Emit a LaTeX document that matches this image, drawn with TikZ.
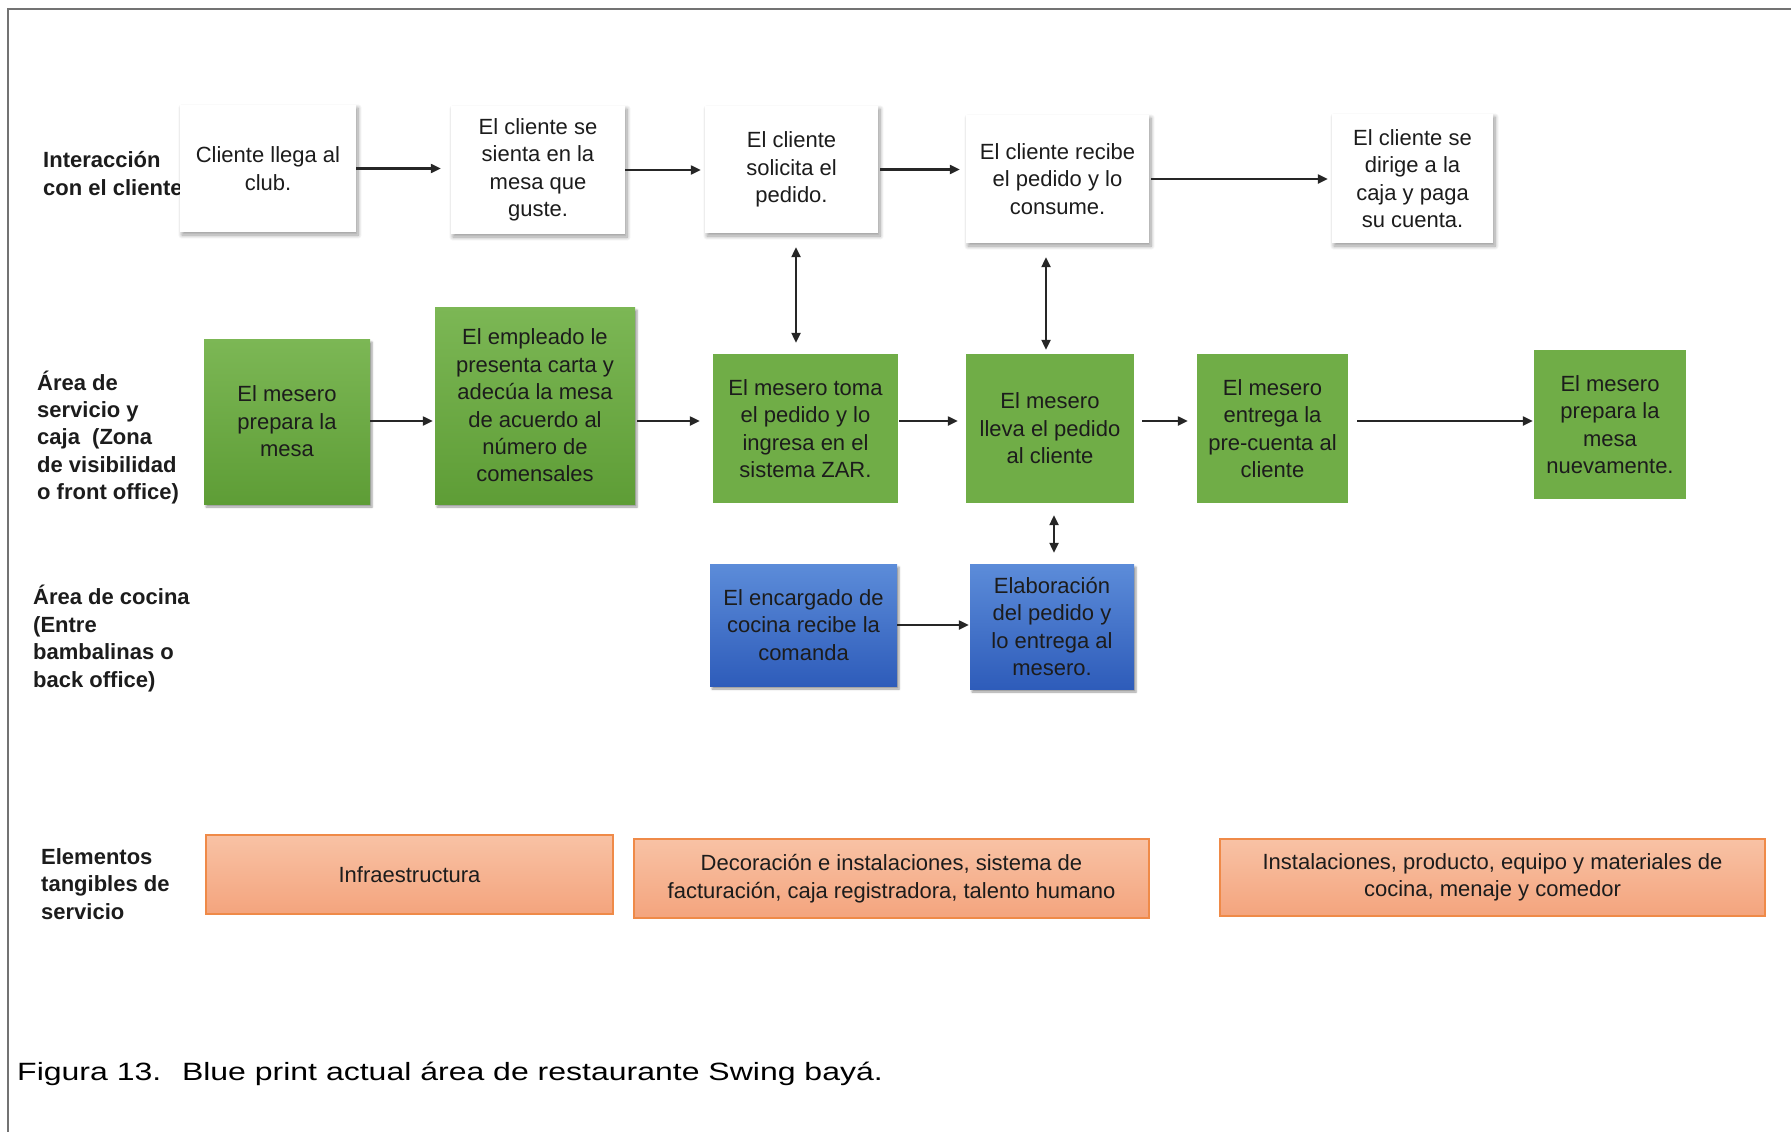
\documentclass[tikz,border=0pt]{standalone}
\usepackage{fontspec}
\setmainfont{Liberation Sans}
\newfontfamily\capfont[FakeStretch=1.28]{Liberation Sans}
\usetikzlibrary{arrows.meta,shadows.blur}
\definecolor{gtop}{HTML}{7CB755}
\definecolor{gbot}{HTML}{5E9D36}
\definecolor{gflat}{HTML}{70AD47}
\definecolor{btop}{HTML}{5C8CD9}
\definecolor{bbot}{HTML}{2E5CBA}
\definecolor{otop}{HTML}{F8C2A5}
\definecolor{obot}{HTML}{F4A47D}
\definecolor{oline}{HTML}{EF8A48}
\definecolor{txt}{HTML}{1C1C1C}
\tikzset{
  boxbase/.style={rectangle, align=center, inner sep=1pt, text=txt},
  wbox/.style={boxbase, fill=white, blur shadow={shadow xshift=2pt, shadow yshift=-3pt, shadow blur radius=4pt, shadow blur steps=8, shadow opacity=40}},
  gbox/.style={boxbase, fill=gflat},
  ggbox/.style={boxbase, top color=gtop, bottom color=gbot, blur shadow={shadow xshift=2pt, shadow yshift=-3pt, shadow blur radius=2pt, shadow opacity=40}},
  bbox/.style={boxbase, top color=btop, bottom color=bbot, blur shadow={shadow xshift=2pt, shadow yshift=-3pt, shadow blur radius=2pt, shadow opacity=40}},
  obox/.style={boxbase, top color=otop, bottom color=obot, draw=oline, line width=1.5pt},
  lane/.style={align=left, inner sep=0pt, anchor=west, font=\fontsize{22}{27.4}\selectfont\bfseries, text=txt},
  arr/.style={-{Triangle[length=10pt,width=9pt]}, line width=2.2pt, draw=black!85},
  dbl/.style={{Triangle[length=10pt,width=9pt]}-{Triangle[length=10pt,width=9pt]}, line width=2.2pt, draw=black!85},
  frameline/.style={draw=black!55, line width=1.5pt}
}
\begin{document}
\begin{tikzpicture}[x=1pt, y=-1pt, font=\fontsize{22}{27.4}\selectfont]
\useasboundingbox (0,0) rectangle (1791,1132);
\draw[frameline] (8,1132) -- (8,9) -- (1791,9);

% lane labels
\node[lane] (L1) at (43,173.6) {Interacción\\con el cliente};
\node[lane] (L2) at (37,437.5) {Área de\\servicio y\\caja~ (Zona\\de visibilidad\\o front office)};
\node[lane] (L3) at (33,638.5) {Área de cocina\\(Entre\\bambalinas o\\back office)};
\node[lane] (L4) at (41,884) {Elementos\\tangibles de\\servicio};

% customer row
\node[wbox, minimum width=176pt, minimum height=127pt] (W1) at (268,168.5) {Cliente llega al\\club.};
\node[wbox, minimum width=174pt, minimum height=128pt] (W2) at (538,170) {El cliente se\\sienta en la\\mesa que\\guste.};
\node[wbox, minimum width=173pt, minimum height=127pt] (W3) at (791.5,169.5) {El cliente\\solicita el\\pedido.};
\node[wbox, minimum width=183pt, minimum height=128pt] (W4) at (1057.5,179) {El cliente recibe\\el pedido y lo\\consume.};
\node[wbox, minimum width=161pt, minimum height=129pt] (W5) at (1412.5,178.5) {El cliente se\\dirige a la\\caja y paga\\su cuenta.};

% service row
\node[ggbox, minimum width=166pt, minimum height=165pt] (G1) at (287,421.5) {El mesero\\prepara la\\mesa};
\node[ggbox, minimum width=200pt, minimum height=197pt] (G2) at (535,405.5) {El empleado le\\presenta carta y\\adecúa la mesa\\de acuerdo al\\número de\\comensales};
\node[gbox, minimum width=185pt, minimum height=149pt] (G3) at (805.5,428.5) {El mesero toma\\el pedido y lo\\ingresa en el\\sistema ZAR.};
\node[gbox, minimum width=168pt, minimum height=149pt] (G4) at (1050,428.5) {El mesero\\lleva el pedido\\al cliente};
\node[gbox, minimum width=151pt, minimum height=149pt] (G5) at (1272.5,428.5) {El mesero\\entrega la\\pre-cuenta al\\cliente};
\node[gbox, minimum width=152pt, minimum height=149pt] (G6) at (1610,424.5) {El mesero\\prepara la\\mesa\\nuevamente.};

% kitchen row
\node[bbox, minimum width=187pt, minimum height=122pt] (B1) at (803.5,625) {El encargado de\\cocina recibe la\\comanda};
\node[bbox, minimum width=164pt, minimum height=125pt] (B2) at (1052,626.5) {Elaboración\\del pedido y\\lo entrega al\\mesero.};

% tangible elements
\node[obox, minimum width=407pt, minimum height=79pt] (O1) at (409.5,874.5) {Infraestructura};
\node[obox, minimum width=515pt, minimum height=79pt] (O2) at (891.5,878.5) {Decoración e instalaciones, sistema de\\facturación, caja registradora, talento humano};
\node[obox, minimum width=545pt, minimum height=77pt] (O3) at (1492.5,877.5) {Instalaciones, producto, equipo y materiales de\\cocina, menaje y comedor};

% caption
\node[anchor=base west, inner sep=0pt, font=\capfont\fontsize{25}{30}\selectfont] (cap) at (17,1080) {Figura 13.~ Blue print actual área de restaurante Swing bayá.};

% helper coordinates
\coordinate (gy) at (0,421);
\coordinate (v1) at (796,0);
\coordinate (v2) at (1046,0);
\coordinate (v3) at (1054,0);

% customer row arrows
\draw[arr, shorten >=10pt] (W1.east) -- (W1.east -| W2.west);
\draw[arr, shorten >=4pt] (W2.east) -- (W2.east -| W3.west);
\draw[arr, shorten <=2pt, shorten >=6pt] (W3.east) -- (W3.east -| W4.west);
\draw[arr, shorten <=2pt, shorten >=4pt] (W4.east) -- (W4.east -| W5.west);

% service row arrows
\draw[arr, shorten >=2pt] (G1.east |- gy) -- (G2.west |- gy);
\draw[arr, shorten <=2pt, shorten >=13pt] (G2.east |- gy) -- (G3.west |- gy);
\draw[arr, shorten <=1pt, shorten >=8pt] (G3.east |- gy) -- (G4.west |- gy);
\draw[arr, shorten <=8pt, shorten >=9pt] (G4.east |- gy) -- (G5.west |- gy);
\draw[arr, shorten <=9pt, shorten >=1pt] (G5.east |- gy) -- (G6.west |- gy);

% vertical links
\draw[dbl, shorten <=14pt, shorten >=11pt] (W3.south -| v1) -- (G3.north -| v1);
\draw[dbl, shorten <=14pt, shorten >=4pt] (W4.south -| v2) -- (G4.north -| v2);
\draw[dbl, shorten <=12pt, shorten >=11pt] (G4.south -| v3) -- (B2.north -| v3);

% kitchen arrow
\draw[arr, shorten >=1pt] (B1.east) -- (B1.east -| B2.west);
\end{tikzpicture}
\end{document}
